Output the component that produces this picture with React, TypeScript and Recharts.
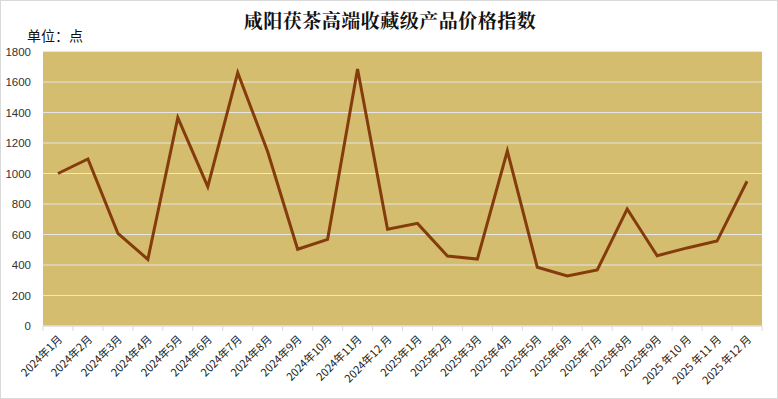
import { LineChart, Line, XAxis, YAxis, CartesianGrid } from "recharts";

// 咸阳茯茶高端收藏级产品价格指数（单位：点）
const months = [
  "2024年1月", "2024年2月", "2024年3月", "2024年4月", "2024年5月", "2024年6月",
  "2024年7月", "2024年8月", "2024年9月", "2024年10月", "2024年11月", "2024年12 月",
  "2025年1月", "2025年2月", "2025年3月", "2025年4月", "2025年5月", "2025年6月",
  "2025年7月", "2025年8月", "2025年9月", "2025 年10 月", "2025 年11 月", "2025 年12 月",
];
const indexValues = [
  1000, 1095, 608, 437, 1366, 914, 1661, 1143, 503, 568, 1685, 634,
  673, 459, 439, 1148, 385, 328, 367, 767, 461, 512, 557, 949,
];
const yTicks = [0, 200, 400, 600, 800, 1000, 1200, 1400, 1600, 1800];

const data = months.map((m, i) => ({ month: m, value: indexValues[i] }));

const BAND = (762 - 43) / months.length;

function MonthTick(props: any) {
  const { x, y, payload, index } = props;
  const last = index === months.length - 1;
  const ay = 326;
  return (
    <g>
      <line x1={x - BAND / 2} y1={ay} x2={x - BAND / 2} y2={ay + 5} stroke="#d9d9d9" />
      {last && <line x1={x + BAND / 2} y1={ay} x2={x + BAND / 2} y2={ay + 5} stroke="#d9d9d9" />}
      <text
        x={x + 5}
        y={ay + 14}
        textAnchor="end"
        transform={`rotate(-45 ${x + 5} ${ay + 14})`}
        fontSize={11}
        fontFamily="'Noto Sans CJK SC', 'Liberation Sans', sans-serif"
        fill="#222"
      >
        {payload.value}
      </text>
    </g>
  );
}

export default function App() {
  return (
    <div
      style={{
        position: "absolute",
        left: 0,
        top: 0,
        width: 778,
        height: 399,
        background: "#fff",
        border: "1px solid #d9d9d9",
        boxSizing: "border-box",
        fontFamily: "'Noto Sans CJK SC', sans-serif",
      }}
    >
      <div
        style={{
          position: "absolute",
          left: 0,
          top: 5,
          width: 778,
          textAlign: "center",
          fontSize: 19,
          fontWeight: "bold",
          color: "#111",
          letterSpacing: 0.5,
          fontFamily: "'Noto Serif CJK SC', 'Noto Sans CJK SC', serif",
        }}
      >
        咸阳茯茶高端收藏级产品价格指数
      </div>
      <div style={{ position: "absolute", left: 26, top: 24, fontSize: 14, color: "#111" }}>
        单位：点
      </div>
      <div style={{ position: "absolute", left: -1, top: -1 }}>
        <LineChart
          width={778}
          height={399}
          data={data}
          margin={{ top: 51.5, right: 16, left: 0, bottom: 0 }}
        >
          <CartesianGrid vertical={false} stroke="#e6e6e6" strokeWidth={1.2} fill="#D5BD6F" />
          <XAxis
            dataKey="month"
            interval={0}
            height={73}
            padding={{ left: BAND / 2, right: BAND / 2 }}
            axisLine={{ stroke: "#d9d9d9" }}
            tickLine={false}
            tick={<MonthTick />}
          />
          <YAxis
            width={43}
            domain={[0, 1800]}
            ticks={yTicks}
            axisLine={false}
            tickLine={false}
            tick={{ fontSize: 11.5, fill: "#333", fontFamily: "'Liberation Sans', sans-serif" }}
            tickMargin={6}
          />
          <Line
            type="linear"
            dataKey="value"
            stroke="#843C0C"
            strokeWidth={3}
            dot={false}
            isAnimationActive={false}
          />
        </LineChart>
      </div>
    </div>
  );
}
